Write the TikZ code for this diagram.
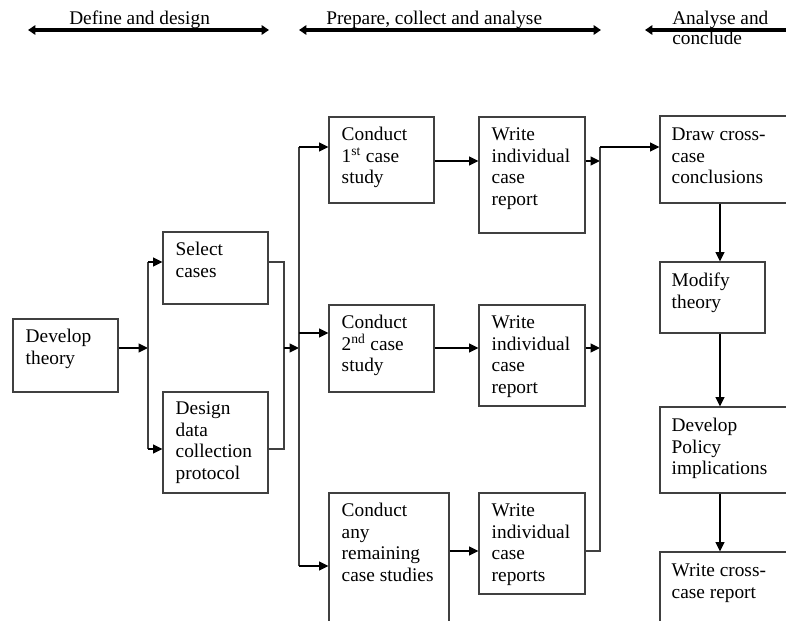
\documentclass[tikz,border=0pt]{standalone}
\usepackage{fontspec}
\setmainfont{Liberation Serif}
\usetikzlibrary{arrows.meta,fit}
\begin{document}
\begin{tikzpicture}[x=0.75pt,y=-0.75pt,
  box/.style={draw=black!75, line width=0.8pt, inner sep=0pt},
  txt/.style={anchor=base west, inner sep=0pt, font=\fontsize{14.5}{16.3}\selectfont},
  conn/.style={line width=1.5pt, -{Triangle[length=7pt,width=6.5pt]}},
  jl/.style={line width=0.9pt, draw=black!75},
  phase/.style={line width=2.4pt, {Triangle[length=5.5pt,width=7pt]}-{Triangle[length=5.5pt,width=7pt]}}]
\useasboundingbox (0,0) rectangle (786,621);
\clip (0,0) rectangle (786,621);

% phase arrows and labels
\coordinate (p1a) at (28,30);  \coordinate (p1b) at (269,30);
\coordinate (p2a) at (299,30); \coordinate (p2b) at (601,30);
\coordinate (p3a) at (645,30); \coordinate (p3b) at (797,30);
\draw[phase] (p1a) -- (p1b);
\draw[phase] (p2a) -- (p2b);
\draw[phase] (p3a) -- (p3b);
\node[txt] (l1) at (69,25) {Define and design};
\node[txt] (l2) at (326,25) {Prepare, collect and analyse};
\node[txt, font=\fontsize{14.5}{15}\selectfont] (l3) at (672,25) {\parbox[t]{150pt}{Analyse and\\conclude}};

% boxes
\node[box, fit={(13,319)(118,392)}] (dev) {};
\node[box, fit={(163,232)(268,304)}] (sel) {};
\node[box, fit={(163,392)(268,493)}] (des) {};
\node[box, fit={(329,117)(434,203)}] (c1) {};
\node[box, fit={(479,117)(585,233)}] (w1) {};
\node[box, fit={(329,305)(434,392)}] (c2) {};
\node[box, fit={(479,305)(585,406)}] (w2) {};
\node[box, fit={(329,493)(449,640)}] (c3) {};
\node[box, fit={(479,493)(585,594)}] (w3) {};
\node[box, fit={(660,116)(800,203)}] (dc) {};
\node[box, fit={(660,262)(765,333)}] (mt) {};
\node[box, fit={(660,407)(800,493)}] (dp) {};
\node[box, fit={(660,552)(800,640)}] (wc) {};

% box texts
\node[txt] (devt) at ([shift={(13,24)}]dev.north west) {\parbox[t]{150pt}{Develop\\theory}};
\node[txt] (selt) at ([shift={(13,24)}]sel.north west) {\parbox[t]{150pt}{Select\\cases}};
\node[txt] (dest) at ([shift={(13,23)}]des.north west) {\parbox[t]{150pt}{Design\\data\\collection\\protocol}};
\node[txt] (c1t) at ([shift={(13,24)}]c1.north west) {\parbox[t]{150pt}{Conduct\\1\textsuperscript{st} case\\study}};
\node[txt] (w1t) at ([shift={(13,24)}]w1.north west) {\parbox[t]{150pt}{Write\\individual\\case\\report}};
\node[txt] (c2t) at ([shift={(13,24)}]c2.north west) {\parbox[t]{150pt}{Conduct\\2\textsuperscript{nd} case\\study}};
\node[txt] (w2t) at ([shift={(13,24)}]w2.north west) {\parbox[t]{150pt}{Write\\individual\\case\\report}};
\node[txt] (c3t) at ([shift={(13,24)}]c3.north west) {\parbox[t]{150pt}{Conduct\\any\\remaining\\case studies}};
\node[txt] (w3t) at ([shift={(13,24)}]w3.north west) {\parbox[t]{150pt}{Write\\individual\\case\\reports}};
\node[txt] (dct) at ([shift={(12,25)}]dc.north west) {\parbox[t]{150pt}{Draw cross-\\case\\conclusions}};
\node[txt] (mtt) at ([shift={(12,25)}]mt.north west) {\parbox[t]{150pt}{Modify\\theory}};
\node[txt] (dpt) at ([shift={(12,25)}]dp.north west) {\parbox[t]{150pt}{Develop\\Policy\\implications}};
\node[txt] (wct) at ([shift={(12,25)}]wc.north west) {\parbox[t]{150pt}{Write cross-\\case report}};

% junction coordinates
\coordinate (ja)  at (148,348);
\coordinate (ja1) at (148,262);
\coordinate (ja2) at (148,449);
\coordinate (jb)  at (284,348);
\coordinate (jb1) at (284,262);
\coordinate (jb2) at (284,449);
\coordinate (jc)  at (299,348);
\coordinate (jc1) at (299,147);
\coordinate (jc2) at (299,333);
\coordinate (jc3) at (299,566);
\coordinate (r1)  at (0,161);
\coordinate (r2)  at (0,348);
\coordinate (r3)  at (0,551);
\coordinate (jd0) at (600,161);
\coordinate (jd1) at (600,147);
\coordinate (jd2) at (600,348);
\coordinate (jd3) at (600,551);
\coordinate (vx)  at (720,0);

% connectors
\draw[conn] (dev.east |- ja) -- (ja);
\draw[jl] (ja1) -- (ja2);
\draw[conn] (ja1) -- (sel.west |- ja1);
\draw[conn] (ja2) -- (des.west |- ja2);
\draw[jl] (sel.east |- jb1) -- (jb1) -- (jb2) -- (des.east |- jb2);
\draw[conn] (jb) -- (jc);
\draw[jl] (jc1) -- (jc3);
\draw[conn] (jc1) -- (c1.west |- jc1);
\draw[conn] (jc2) -- (c2.west |- jc2);
\draw[conn] (jc3) -- (c3.west |- jc3);
\draw[conn] (c1.east |- r1) -- (w1.west |- r1);
\draw[conn] (c2.east |- r2) -- (w2.west |- r2);
\draw[conn] (c3.east |- r3) -- (w3.west |- r3);
\draw[conn] (w1.east |- jd0) -- (jd0);
\draw[conn] (w2.east |- jd2) -- (jd2);
\draw[jl] (w3.east |- jd3) -- (jd3) -- (jd1);
\draw[conn] (jd1) -- (dc.west |- jd1);
\draw[conn] (dc.south -| vx) -- (mt.north -| vx);
\draw[conn] (mt.south -| vx) -- (dp.north -| vx);
\draw[conn] (dp.south -| vx) -- (wc.north -| vx);
\end{tikzpicture}
\end{document}
